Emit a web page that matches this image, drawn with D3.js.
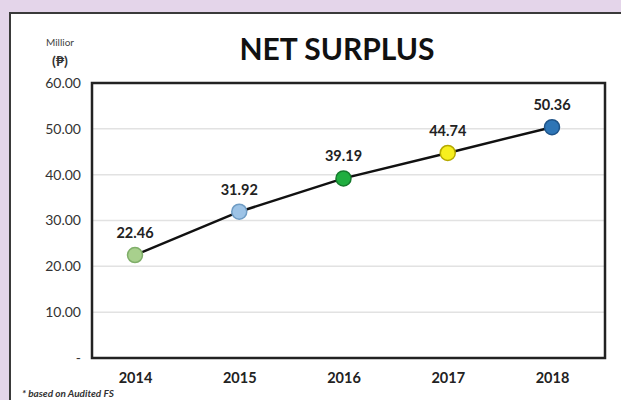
<!DOCTYPE html>
<html>
<head>
<meta charset="utf-8">
<script src="https://cdn.jsdelivr.net/npm/d3@7"></script>
<style>
  html, body { margin: 0; padding: 0; background: #ffffff; overflow: hidden; width: 621px; height: 400px; }
  svg { display: block; }
</style>
</head>
<body>
<svg id="chart" width="621" height="400" viewBox="0 0 621 400"></svg>
<script>
const years = ["2014", "2015", "2016", "2017", "2018"];
const values = [22.46, 31.92, 39.19, 44.74, 50.36];
const markerColors = ["#a8d08d", "#9dc3e6", "#1fae3f", "#f7ef1f", "#2e75b6"];
const markerStrokes = ["#7fae69", "#6f9cc4", "#157a2c", "#b5a900", "#1f5489"];
const yTicks = [0, 10, 20, 30, 40, 50, 60];
const tickLabels = ["-", "10.00", "20.00", "30.00", "40.00", "50.00", "60.00"];

const svg = d3.select("#chart");
const font = "Lato, 'Open Sans', Arial, sans-serif";

// panel
svg.append("rect").attr("x", 0).attr("y", 0).attr("width", 621).attr("height", 400).attr("fill", "#e4d5ea");
svg.append("rect").attr("x", 10).attr("y", 13).attr("width", 611).attr("height", 387).attr("fill", "#ffffff");
svg.append("path").attr("d", "M10,400V13H621").attr("fill", "none").attr("stroke", "#3a3a3a").attr("stroke-width", 2);

const box = { left: 92, right: 605, top: 83, bottom: 358 };

const x = d3.scalePoint().domain(years).range([135, 552]);
const y = d3.scaleLinear().domain([0, 60]).range([box.bottom, box.top]);

// gridlines
svg.append("g").selectAll("line").data(yTicks.filter(d => d > 0 && d < 60)).join("line")
  .attr("x1", box.left).attr("x2", box.right)
  .attr("y1", d => y(d)).attr("y2", d => y(d))
  .attr("stroke", "#e2e2e2").attr("stroke-width", 1.5);

// plot box
svg.append("rect").attr("x", box.left).attr("y", box.top)
  .attr("width", box.right - box.left).attr("height", box.bottom - box.top)
  .attr("fill", "none").attr("stroke", "#222").attr("stroke-width", 2.5);

// y axis labels
const yAxis = d3.axisLeft(y).tickValues(yTicks).tickSize(0).tickPadding(11)
  .tickFormat((d, i) => tickLabels[i]);
const yg = svg.append("g").attr("transform", `translate(${box.left},0)`).call(yAxis);
yg.select(".domain").remove();
yg.selectAll("text").attr("font-family", font).attr("font-size", 14).attr("fill", "#333");

// x axis labels
const xAxis = d3.axisBottom(x).tickSize(0).tickPadding(15);
const xg = svg.append("g").attr("transform", `translate(0,${box.bottom})`).call(xAxis);
xg.select(".domain").remove();
xg.selectAll("text").attr("font-family", font).attr("font-size", 14.5).attr("font-weight", "bold").attr("fill", "#222");

// line
const data = years.map((yr, i) => ({ yr, v: values[i], c: markerColors[i], s: markerStrokes[i] }));
svg.append("path").datum(data)
  .attr("d", d3.line().x(d => x(d.yr)).y(d => y(d.v)))
  .attr("fill", "none").attr("stroke", "#111").attr("stroke-width", 2.5);

// markers
svg.append("g").selectAll("circle").data(data).join("circle")
  .attr("cx", d => x(d.yr)).attr("cy", d => y(d.v)).attr("r", 7.5)
  .attr("fill", d => d.c).attr("stroke", d => d.s).attr("stroke-width", 1.5);

// data labels
svg.append("g").selectAll("text").data(data).join("text")
  .attr("x", d => x(d.yr)).attr("y", d => y(d.v) - 17)
  .attr("text-anchor", "middle")
  .attr("font-family", font).attr("font-size", 14.5).attr("font-weight", "bold").attr("fill", "#222")
  .text(d => d.v.toFixed(2));

// title
svg.append("text").attr("x", 337).attr("y", 60).attr("text-anchor", "middle")
  .attr("font-family", font).attr("font-size", 30).attr("font-weight", "bold").attr("fill", "#111")
  .text("NET SURPLUS");

// unit
svg.append("text").attr("x", 60).attr("y", 46).attr("text-anchor", "middle")
  .attr("font-family", font).attr("font-size", 10).attr("fill", "#444").text("Millior");
svg.append("text").attr("x", 60).attr("y", 66).attr("text-anchor", "middle")
  .attr("font-family", font).attr("font-size", 14).attr("font-weight", "bold").attr("fill", "#333").text("(₱)");

// footnote
svg.append("text").attr("x", 22).attr("y", 397)
  .attr("font-family", font).attr("font-size", 10).attr("font-style", "italic").attr("font-weight", "bold").attr("fill", "#333")
  .text("* based on Audited FS");
</script>
</body>
</html>
